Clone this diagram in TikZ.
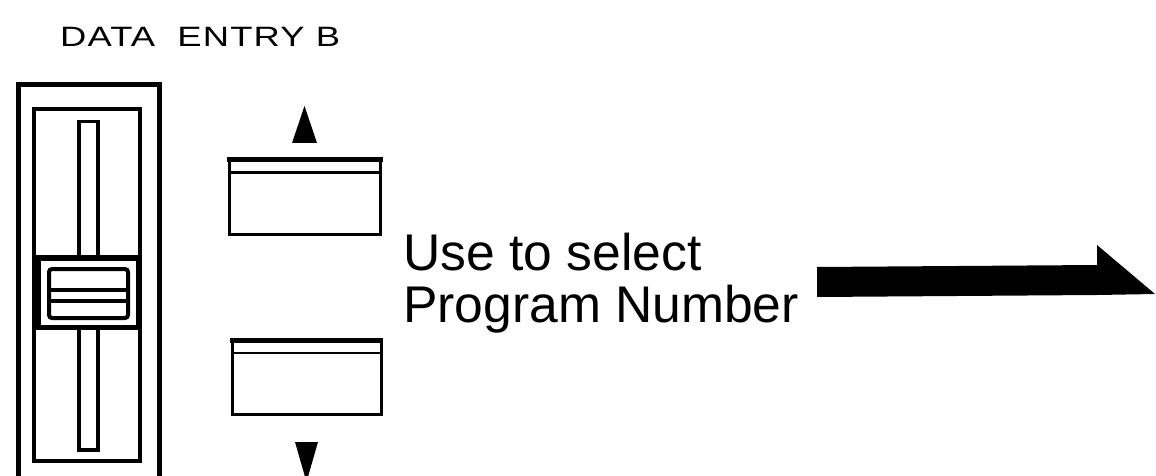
\documentclass[tikz,border=0pt]{standalone}
\usepackage{fontspec}
\setmainfont{Liberation Sans}
\begin{document}
\begin{tikzpicture}[x=1pt,y=-1pt,
  titletext/.style={inner sep=0pt, anchor=base west, font=\fontsize{28}{28}\selectfont\addfontfeatures{FakeStretch=1.3,LetterSpace=4}},
  labeltext/.style={inner sep=0pt, anchor=base west, font=\fontsize{51.6}{52}\selectfont},
  heavy/.style={draw=black, line width=4.5pt},
  medium/.style={draw=black, line width=3.5pt},
  thin/.style={draw=black, line width=2.5pt}]
\useasboundingbox (0,0) rectangle (1156,476);

% title
\node[titletext] (title) at (60,47) {DATA\hspace{11pt} ENTRY B};

% slider housing
\draw[heavy] (18.5,490) -- (18.5,84.5) -- (159.5,84.5) -- (159.5,490);
\draw[medium] (34,109) rectangle (140,461);
% slot
\draw[medium] (79,121.5) rectangle (98,450);
% knob
\fill[black] (32,255) rectangle (142,330);
\fill[white] (41,261) rectangle (135.5,325);
\draw[line width=4pt, rounded corners=3pt] (49,269) rectangle (128,318);
\draw[line width=4pt] (49,289.5) -- (128,289.5);
\draw[line width=4pt] (49,300.5) -- (128,300.5);

% up button
\draw[line width=3pt] (229.5,159) rectangle (380.5,234.5);
\draw[line width=5pt] (227,159.5) -- (383,159.5);
\draw[thin] (230,172.5) -- (380,172.5);
\fill[black] (304.5,106) -- (317,143) -- (292,143) -- cycle;

% down button
\draw[line width=3pt] (232,340) rectangle (381,414.5);
\draw[line width=5pt] (230,340.5) -- (382.5,340.5);
\draw[thin] (233,353) -- (380,353);
\fill[black] (295,442) -- (318,442) -- (306.5,482) -- cycle;

% label
\node[labeltext] (line1) at (403,270) {Use to select};
\node[labeltext] (line2) at (403,322) {Program Number};

% big arrow
\fill[black] (817,267) -- (1097,265) -- (1097,245) -- (1155,294) -- (1097,295) -- (817,297) -- cycle;
\end{tikzpicture}
\end{document}
